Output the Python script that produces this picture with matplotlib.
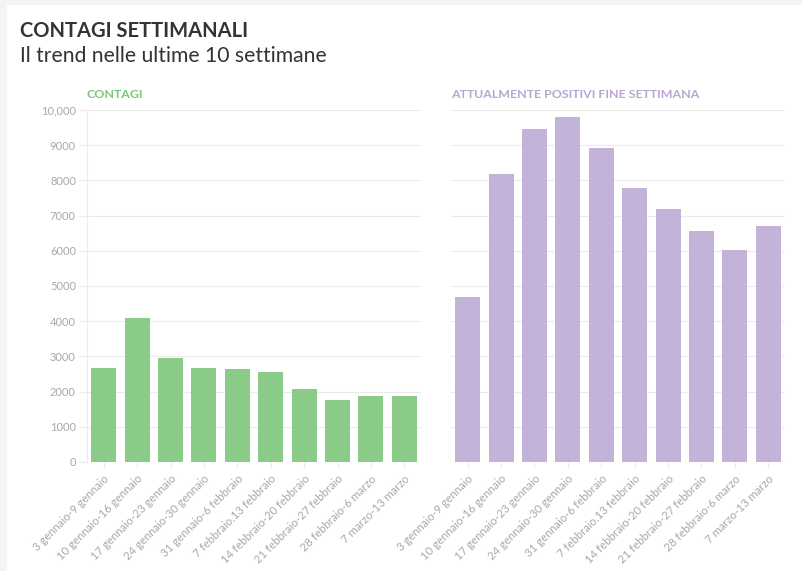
import numpy as np
import matplotlib.pyplot as plt
from matplotlib.patches import Rectangle

plt.rcParams['font.family'] = ['Lato', 'DejaVu Sans']

# Data
weeks = [
    "3 gennaio-9 gennaio",
    "10 gennaio-16 gennaio",
    "17 gennaio-23 gennaio",
    "24 gennaio-30 gennaio",
    "31 gennaio-6 febbraio",
    "7 febbraio.13 febbraio",
    "14 febbraio-20 febbraio",
    "21 febbraio-27 febbraio",
    "28 febbraio-6 marzo",
    "7 marzo-13 marzo",
]
contagi = [2680, 4100, 2960, 2680, 2650, 2560, 2060, 1760, 1880, 1870]
positivi = [4700, 8190, 9470, 9790, 8930, 7790, 7200, 6570, 6030, 6710]
y_ticks = [0, 1000, 2000, 3000, 4000, 5000, 6000, 7000, 8000, 9000, 10000]
y_labels = ["0", "1000", "2000", "3000", "4000", "5000", "6000", "7000",
            "8000", "9000", "10,000"]

grid_col = "#ebebeb"
tick_col = "#a8a8a8"

fig = plt.figure(figsize=(8.03, 5.71), dpi=100)
fig.patch.set_facecolor("#f4f4f4")
fig.patches.append(Rectangle((7 / 803, 0), 1, 1 - 5 / 571, transform=fig.transFigure,
                             facecolor="white", edgecolor="none", zorder=-1))

fig.text(20 / 803, 1 - 31 / 571, "CONTAGI SETTIMANALI", fontsize=14.5,
         fontweight="bold", color="#333333", va="center")
fig.text(20 / 803, 1 - 56 / 571, "Il trend nelle ultime 10 settimane",
         fontsize=15.2, color="#333333", va="center")

bottom = 1 - 462 / 571
height = (462 - 110) / 571
ax1 = fig.add_axes([87 / 803, bottom, (421 - 87) / 803, height])
ax2 = fig.add_axes([451 / 803, bottom, (785 - 451) / 803, height])

x = np.arange(len(weeks))
panels = [
    (ax1, contagi, "#8bcb88", "CONTAGI", "#7cc678"),
    (ax2, positivi, "#c4b3d8", "ATTUALMENTE POSITIVI FINE SETTIMANA", "#b8a5d3"),
]
for ax, vals, col, title, tcol in panels:
    ax.bar(x, vals, width=0.75, color=col, zorder=2)
    ax.set_ylim(0, 10000)
    ax.set_xlim(-0.5, len(weeks) - 0.5)
    ax.set_yticks(y_ticks)
    ax.grid(axis="y", color=grid_col, linewidth=0.8, zorder=0)
    for s in ax.spines.values():
        s.set_visible(False)
    ax.set_xticks(x)
    ax.set_xticklabels(weeks, rotation=45, ha="right", rotation_mode="anchor",
                       fontsize=8.2, color=tick_col)
    ax.tick_params(axis="x", length=4, color=grid_col, pad=4)
    ax.text(0, 1.045, title, transform=ax.transAxes, fontsize=8.9,
            fontweight="bold", color=tcol, va="center")

ax1.set_yticklabels(y_labels, fontsize=8, color=tick_col)
ax1.tick_params(axis="y", length=6, color=grid_col, pad=2)
ax1.spines["left"].set_visible(True)
ax1.spines["left"].set_color(grid_col)
ax2.tick_params(axis="y", left=False, labelleft=False)

fig.savefig("out.png", dpi=100, facecolor=fig.get_facecolor())
